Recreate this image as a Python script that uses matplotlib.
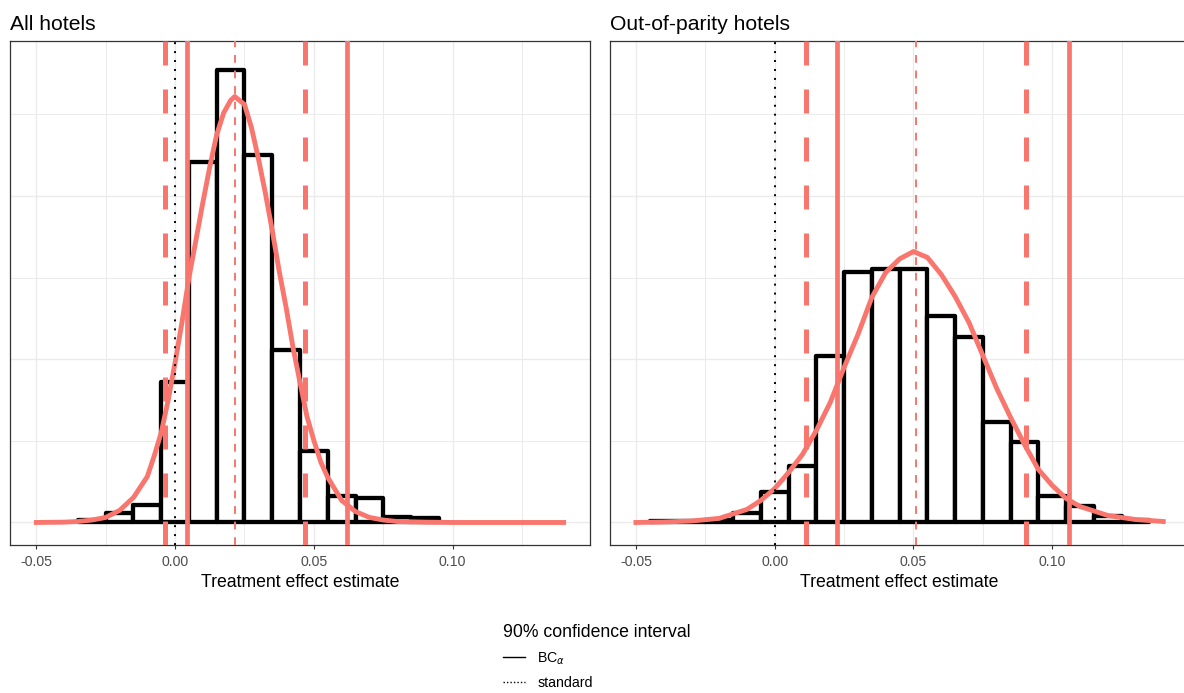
import matplotlib
matplotlib.use("Agg")
import matplotlib.pyplot as plt
from matplotlib.lines import Line2D

plt.rcParams["font.family"] = ["Liberation Sans", "DejaVu Sans"]

RED = "#F8766D"
GRID = "#EBEBEB"
BIN_WIDTH = 0.01

# --- All hotels: bootstrap histogram (density) ---
all_bin_mid = [-0.03, -0.02, -0.01, 0.00, 0.01, 0.02, 0.03, 0.04, 0.05, 0.06, 0.07, 0.08, 0.09]
all_bin_density = [0.18, 0.61, 1.10, 8.58, 22.06, 27.70, 22.49, 10.54, 4.35, 1.65, 1.53, 0.31, 0.25]

# fitted density curve
all_curve_x = [-0.05, -0.04, -0.035, -0.03, -0.025, -0.02, -0.015, -0.01, -0.0075, -0.005,
               -0.0025, 0.0, 0.0025, 0.005, 0.0075, 0.01, 0.0125, 0.015, 0.0175, 0.02,
               0.0215, 0.025, 0.0275, 0.03, 0.0325, 0.035, 0.0375, 0.04, 0.0425, 0.045,
               0.0475, 0.05, 0.0525, 0.055, 0.06, 0.065, 0.07, 0.075, 0.08, 0.09,
               0.10, 0.14]
all_curve_density = [0.0, 0.02, 0.06, 0.15, 0.31, 0.74, 1.53, 2.82, 4.1, 5.51,
                     7.5, 9.80, 12.3, 15.01, 17.3, 19.61, 21.8, 23.77, 25.1, 25.86,
                     26.10, 25.61, 24.2, 22.30, 20.2, 17.89, 15.4, 13.17, 10.7, 8.58,
                     6.5, 5.02, 3.7, 2.76, 1.35, 0.67, 0.31, 0.15, 0.06, 0.02,
                     0.0, 0.0]

all_estimate = 0.0216
all_bca = [0.0043, 0.0620]
all_standard = [-0.0035, 0.0468]

# --- Out-of-parity hotels ---
oop_bin_mid = [-0.04, -0.03, -0.02, -0.01, 0.00, 0.01, 0.02, 0.03, 0.04, 0.05,
               0.06, 0.07, 0.08, 0.09, 0.10, 0.11, 0.12, 0.13]
oop_bin_density = [0.06, 0.12, 0.18, 0.61, 1.84, 3.49, 10.17, 15.32, 15.56, 15.56,
                   12.68, 11.34, 6.13, 4.96, 1.65, 1.04, 0.37, 0.18]

oop_curve_x = [-0.05, -0.04, -0.03, -0.02, -0.01, -0.005, 0.0, 0.005, 0.01, 0.015,
               0.02, 0.025, 0.03, 0.035, 0.04, 0.045, 0.05, 0.055, 0.06, 0.065,
               0.07, 0.075, 0.08, 0.085, 0.09, 0.095, 0.10, 0.105, 0.11, 0.12, 0.13, 0.14]
oop_curve_density = [0.0, 0.03, 0.09, 0.25, 0.80, 1.35, 2.08, 3.06, 4.17, 5.64,
                     7.35, 9.50, 11.52, 13.79, 15.32, 16.15, 16.60, 16.24, 15.20, 13.85,
                     12.25, 10.23, 8.21, 6.43, 4.78, 3.25, 2.27, 1.47, 0.98, 0.43, 0.18, 0.06]

oop_estimate = 0.0508
oop_bca = [0.0225, 0.1062]
oop_standard = [0.0114, 0.0906]

panels = [
    ("All hotels", all_bin_mid, all_bin_density, all_curve_x, all_curve_density,
     all_estimate, all_bca, all_standard),
    ("Out-of-parity hotels", oop_bin_mid, oop_bin_density, oop_curve_x, oop_curve_density,
     oop_estimate, oop_bca, oop_standard),
]

W, H = 1184, 693
fig = plt.figure(figsize=(W / 100, H / 100), dpi=100)

# panel boxes in pixels: left, top, width, bottom (right panel runs off the canvas)
panel_px = [(10, 41, 580, 545), (609.6, 41, 580, 545)]

for (left, top, width, bottom), (title, mids, dens, cx, cy, est, bca, std) in zip(panel_px, panels):
    ax = fig.add_axes([left / W, 1 - bottom / H, width / W, (bottom - top) / H])
    ax.set_xlim(-0.0595, 0.1495)
    ax.set_ylim(-1.38, 29.5)

    ax.set_xticks([-0.05, 0.0, 0.05, 0.10])
    ax.set_xticklabels(["-0.05", "0.00", "0.05", "0.10"])
    ax.set_xticks([-0.025, 0.025, 0.075, 0.125], minor=True)
    ax.set_yticks([0, 10, 20])
    ax.set_yticks([5, 15, 25], minor=True)
    ax.grid(which="major", color=GRID, lw=1.0)
    ax.grid(which="minor", color=GRID, lw=0.7)
    ax.set_axisbelow(True)
    ax.tick_params(axis="y", which="both", left=False, labelleft=False)
    ax.tick_params(axis="x", which="minor", bottom=False)
    ax.tick_params(axis="x", which="major", length=3, width=0.8, color="#333333",
                   labelsize=10.2, labelcolor="#4D4D4D", pad=4)
    for sp in ax.spines.values():
        sp.set_color("#333333")
        sp.set_linewidth(0.9)

    ax.bar(mids, dens, width=BIN_WIDTH, color="white", edgecolor="black",
           linewidth=3.1, joinstyle="round", zorder=2)
    ax.plot(cx, cy, color=RED, lw=3.5, solid_joinstyle="round", zorder=3)

    for v in bca:
        ax.axvline(v, color=RED, lw=3.4, zorder=4)
    for v in std:
        ax.axvline(v, color=RED, lw=3.6, dashes=(4.8, 4.8), zorder=4)
    ax.axvline(est, color=RED, lw=1.4, dashes=(4, 4), zorder=4)
    ax.axvline(0.0, color="black", lw=1.4, dashes=(1, 3.6), zorder=5)

    ax.set_title(title, loc="left", fontsize=15.2, pad=8)
    ax.set_xlabel("Treatment effect estimate", fontsize=12.7, labelpad=4)

handles = [Line2D([], [], color="black", lw=1.0),
           Line2D([], [], color="black", lw=1.0, ls=(0, (1, 1.5)))]
fig.legend(handles, [r"BC$_{\alpha}$", "standard"], title="90% confidence interval",
           loc="upper center", bbox_to_anchor=(597 / W, 1 - 617 / H), frameon=False,
           alignment="left", fontsize=10.2, title_fontsize=12.7, handlelength=1.5,
           handletextpad=0.9, labelspacing=0.65, borderpad=0)

fig.savefig("out.png", dpi=100)
